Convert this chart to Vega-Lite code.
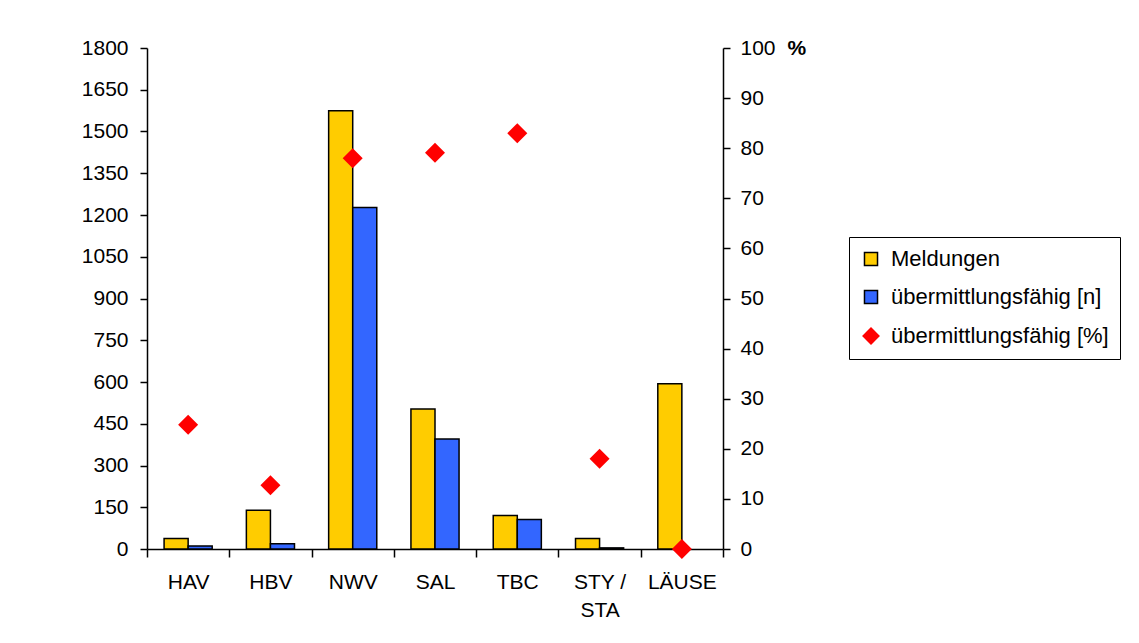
{
  "$schema": "https://vega.github.io/schema/vega-lite/v6.json",
  "autosize": {"type": "none"},
  "padding": {"left": 147, "top": 48, "right": 416, "bottom": 94},
  "width": 576,
  "height": 501,
  "background": "white",
  "config": {
    "font": "Liberation Sans",
    "view": {"stroke": null},
    "axis": {
      "domainColor": "black",
      "tickColor": "black",
      "labelColor": "black",
      "labelFontSize": 21,
      "labelFont": "Liberation Sans",
      "grid": false,
      "domainWidth": 1.5,
      "tickWidth": 1.5
    },
    "legend": {
      "labelLimit": 0
    }
  },
  "datasets": {
    "bars": [
      {"cat": "HAV", "series": "Meldungen", "value": 38},
      {"cat": "HAV", "series": "übermittlungsfähig [n]", "value": 11},
      {"cat": "HBV", "series": "Meldungen", "value": 139},
      {"cat": "HBV", "series": "übermittlungsfähig [n]", "value": 19},
      {"cat": "NWV", "series": "Meldungen", "value": 1575},
      {"cat": "NWV", "series": "übermittlungsfähig [n]", "value": 1227},
      {"cat": "SAL", "series": "Meldungen", "value": 503},
      {"cat": "SAL", "series": "übermittlungsfähig [n]", "value": 395},
      {"cat": "TBC", "series": "Meldungen", "value": 120},
      {"cat": "TBC", "series": "übermittlungsfähig [n]", "value": 106},
      {"cat": "STY / STA", "series": "Meldungen", "value": 38},
      {"cat": "STY / STA", "series": "übermittlungsfähig [n]", "value": 4},
      {"cat": "LÄUSE", "series": "Meldungen", "value": 594}
    ],
    "pct": [
      {"cat": "HAV", "series": "übermittlungsfähig [%]", "pct": 24.8},
      {"cat": "HBV", "series": "übermittlungsfähig [%]", "pct": 12.7},
      {"cat": "NWV", "series": "übermittlungsfähig [%]", "pct": 78.0},
      {"cat": "SAL", "series": "übermittlungsfähig [%]", "pct": 79.1},
      {"cat": "TBC", "series": "übermittlungsfähig [%]", "pct": 83.0},
      {"cat": "STY / STA", "series": "übermittlungsfähig [%]", "pct": 18.0},
      {"cat": "LÄUSE", "series": "übermittlungsfähig [%]", "pct": 0}
    ]
  },
  "layer": [
    {
      "data": {"name": "bars"},
      "mark": {"type": "bar", "stroke": "black", "strokeWidth": 1.5},
      "encoding": {
        "x": {
          "field": "cat",
          "type": "nominal",
          "sort": ["HAV", "HBV", "NWV", "SAL", "TBC", "STY / STA", "LÄUSE"],
          "scale": {"paddingInner": 0, "paddingOuter": 0},
          "axis": {
            "title": null,
            "tickBand": "extent",
            "labelAngle": 0,
            "tickSize": 8,
            "labelPadding": 14,
            "labelBaseline": "top",
            "labelLineHeight": 28,
            "labelExpr": "datum.value == 'STY / STA' ? ['STY /', 'STA'] : datum.value"
          }
        },
        "xOffset": {
          "field": "series",
          "type": "nominal",
          "sort": ["Meldungen", "übermittlungsfähig [n]"],
          "scale": {"domain": ["Meldungen", "übermittlungsfähig [n]"], "paddingInner": 0, "paddingOuter": 0.71}
        },
        "y": {
          "field": "value",
          "type": "quantitative",
          "scale": {"domain": [0, 1800], "nice": false},
          "axis": {
            "title": null,
            "format": "d",
            "values": [0, 150, 300, 450, 600, 750, 900, 1050, 1200, 1350, 1500, 1650, 1800],
            "tickSize": 7,
            "labelPadding": 12
          }
        },
        "color": {
          "field": "series",
          "type": "nominal",
          "scale": {
            "domain": ["Meldungen", "übermittlungsfähig [n]", "übermittlungsfähig [%]"],
            "range": ["#FFCC00", "#3366FF", "#FF0000"]
          },
          "legend": {
            "title": null,
            "orient": "none",
            "legendX": 702,
            "legendY": 189,
            "padding": 11,
            "strokeColor": "black",
            "fillColor": "white",
            "labelFontSize": 22,
            "labelColor": "black",
            "labelFont": "Liberation Sans",
            "labelLimit": 0,
            "symbolSize": 170,
            "symbolType": "square",
            "rowPadding": 16,
            "labelOffset": 9,
            "encoding": {
              "symbols": {
                "shape": {"value": {"expr": "datum.index == 2 ? 'diamond' : 'square'"}},
                "size": {"value": {"expr": "datum.index == 2 ? 320 : 170"}},
                "stroke": {"value": {"expr": "datum.index == 2 ? 'transparent' : 'black'"}},
                "strokeWidth": {"value": 1.5},
                "opacity": {"value": 1}
              }
            }
          }
        }
      }
    },
    {
      "data": {"name": "pct"},
      "mark": {"type": "point", "shape": "diamond", "filled": true, "size": 400, "opacity": 1},
      "encoding": {
        "x": {
          "field": "cat",
          "type": "nominal",
          "sort": ["HAV", "HBV", "NWV", "SAL", "TBC", "STY / STA", "LÄUSE"]
        },
        "y": {
          "field": "pct",
          "type": "quantitative",
          "scale": {"domain": [0, 100], "nice": false},
          "axis": {
            "orient": "right",
            "title": "%",
            "titleAngle": 0,
            "titleFontSize": 21,
            "titleFontWeight": "bold",
            "titleFont": "Liberation Sans",
            "titleColor": "black",
            "titleAlign": "left",
            "titleBaseline": "middle",
            "titleX": 64,
            "titleY": 0,
            "values": [0, 10, 20, 30, 40, 50, 60, 70, 80, 90, 100],
            "tickSize": 7,
            "labelPadding": 10
          }
        },
        "color": {
          "field": "series",
          "type": "nominal"
        }
      }
    }
  ],
  "resolve": {"scale": {"y": "independent"}}
}
